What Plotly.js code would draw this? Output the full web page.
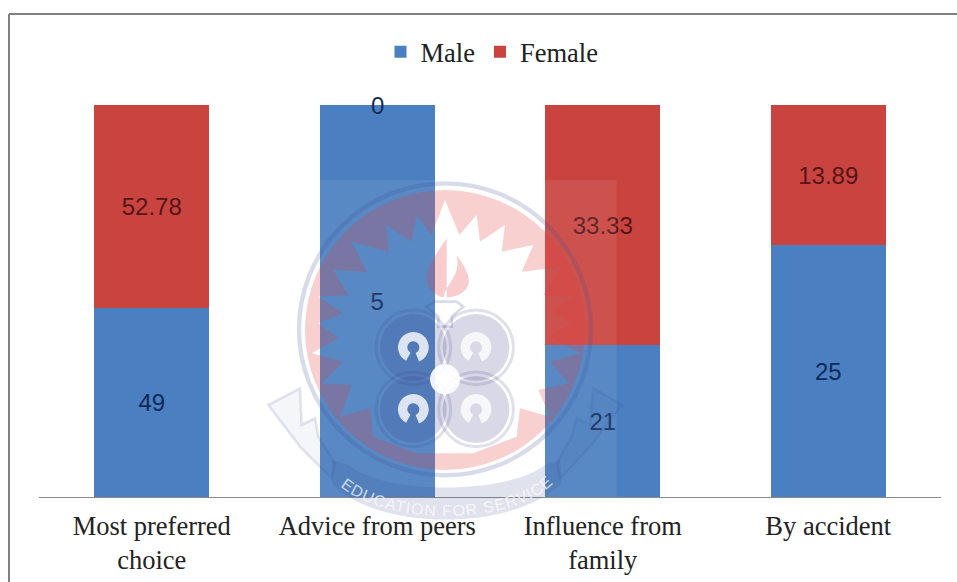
<!DOCTYPE html>
<html><head><meta charset="utf-8">
<script src="https://cdn.plot.ly/plotly-3.0.1.min.js"></script>
<style>html,body{margin:0;padding:0;background:#fff}</style></head>
<body><div id="chart" style="width:957px;height:582px"></div>
<script>
const categories = ["Most preferred<br>choice", "Advice from peers", "Influence from<br>family", "By accident"];
const maleValues = [49, 5, 21, 25];
const femaleValues = [52.78, 0, 33.33, 13.89];
const maleName = "Male";
const femaleName = "Female";

const W = 957, H = 582, L = 39, R = 941, T = 105, B = 497;

const starPts = "555,90 598,195 650,135 660,215 735,165 725,245 820,225 785,305 905,290 850,375 940,380 880,425 935,460 870,500 960,550 870,575 925,640 835,660 870,740 780,715 770,800 640,850 555,850 470,850 340,800 330,715 240,740 275,645 185,640 250,575 155,550 235,505 175,460 250,430 175,380 265,375 220,300 320,305 275,215 385,245 380,165 455,215 470,135 515,195";
const lobes = [[460,532],[648,532],[460,718],[648,718]];
const lobeSvg = lobes.map(p => `<circle cx="${p[0]}" cy="${p[1]}" r="112" fill="none" stroke="#3c3c88" stroke-opacity=".16" stroke-width="9"/><circle cx="${p[0]}" cy="${p[1]}" r="100" fill="#3c3c88" fill-opacity=".2"/><circle cx="${p[0]}" cy="${p[1]}" r="32" fill="none" stroke="#fff" stroke-opacity=".8" stroke-width="28" stroke-dasharray="172 29" transform="rotate(118 ${p[0]} ${p[1]})"/>`).join("");
const watermark = `<svg xmlns="http://www.w3.org/2000/svg" width="1110" height="1080" viewBox="0 0 1110 1080">
<rect x="180" y="30" width="890" height="950" fill="#fff" fill-opacity=".08"/>
<path fill-rule="evenodd" fill="#e83c3c" fill-opacity=".24" d="M135,480a420,420 0 1,0 840,0a420,420 0 1,0 -840,0Z M${starPts.replace(/ /g," L")}Z"/>
<circle cx="555" cy="478" r="438" fill="none" stroke="#3c4c98" stroke-opacity=".2" stroke-width="13"/>
<path d="M560,205 C530,250 500,290 500,325 C502,360 530,380 552,382 C552,345 605,320 590,255 C615,290 632,320 625,345 C612,375 580,382 560,382 Z" fill="#e83c3c" fill-opacity=".26"/>
<path d="M500,410 L525,395 L590,395 L610,410 L575,440 L575,470 L535,470 L535,440 Z" fill="none" stroke="#3c4c98" stroke-opacity=".2" stroke-width="8"/>
${lobeSvg}
<circle cx="555" cy="628" r="45" fill="#fff" fill-opacity=".9"/>
<path d="M25,705 L120,655 L125,765 L165,745 L175,800 L225,880 L215,925 L120,830 Z" fill="#3c4c98" fill-opacity=".05" stroke="#3c4c98" stroke-opacity=".14" stroke-width="8"/>
<path d="M1085,705 L1000,655 L990,765 L950,745 L935,800 L890,880 L900,925 L990,830 Z" fill="#3c4c98" fill-opacity=".05" stroke="#3c4c98" stroke-opacity=".14" stroke-width="8"/>
<path d="M215,870 L265,885 C370,975 740,975 855,885 L900,870 L905,940 C760,1085 350,1085 215,940 Z" fill="#3c4c98" fill-opacity=".16"/>
<path id="arc" d="M235,945 C380,1070 740,1070 875,945" fill="none"/>
<text font-family="Liberation Sans, Arial, sans-serif" font-size="48" fill="#fff" fill-opacity=".7" textLength="680"><textPath href="#arc" startOffset="1%">EDUCATION FOR SERVICE</textPath></text>
</svg>`;

const labelFamily = "Liberation Sans, Arial, sans-serif";
const serifFamily = "Liberation Serif, Times New Roman, serif";
const common = {
  type: "bar",
  x: categories,
  textposition: "inside",
  insidetextanchor: "middle",
  constraintext: "none",
  textangle: 0,
  hoverinfo: "x+y+name"
};

const data = [
  Object.assign({}, common, {
    name: maleName, y: maleValues, text: maleValues.map(String),
    marker: {color: "#4a7fc1"},
    textfont: {family: labelFamily, size: 24, color: "#102a58"}
  }),
  Object.assign({}, common, {
    name: femaleName, y: femaleValues, text: femaleValues.map(v => v === 0 ? "" : String(v)),
    marker: {color: "#c9443f"},
    textfont: {family: labelFamily, size: 24, color: "#561419"}
  })
];

const annotations = femaleValues.map((v, i) => v === 0 ? {
  x: categories[i], y: 100, xref: "x", yref: "y", text: String(v), showarrow: false,
  font: {family: labelFamily, size: 24, color: "#102a58"}
} : null).filter(Boolean);

const layout = {
  width: W, height: H,
  margin: {l: L, r: W - R, t: T, b: H - B, pad: 0},
  paper_bgcolor: "#fff", plot_bgcolor: "#fff",
  barmode: "stack", barnorm: "percent", bargap: 0.49,
  showlegend: true,
  legend: {
    orientation: "h", x: (492 - L) / (R - L), xanchor: "center", y: 1.135, yanchor: "middle",
    font: {family: serifFamily, size: 26.5, color: "#222"},
    traceorder: "normal", itemwidth: 30, bgcolor: "rgba(0,0,0,0)"
  },
  xaxis: {
    type: "category", range: [-0.5, 3.5], showline: true, linecolor: "#8a8a8a", linewidth: 1,
    ticks: "", showgrid: false, zeroline: false, automargin: false, tickangle: 0,
    ticklabelstandoff: 5,
    tickfont: {family: serifFamily, size: 26.5, color: "#222"}
  },
  yaxis: {range: [0, 100], showticklabels: false, showgrid: false, zeroline: false, showline: false, ticks: "", automargin: false},
  annotations: annotations,
  shapes: [
    {type: "line", xref: "paper", yref: "paper", x0: (9 - L) / (R - L), x1: (9 - L) / (R - L), y0: (B - 14) / (B - T), y1: (B - 582) / (B - T), line: {color: "#808080", width: 2}},
    {type: "line", xref: "paper", yref: "paper", x0: (9 - L) / (R - L), x1: (957 - L) / (R - L), y0: (B - 14) / (B - T), y1: (B - 14) / (B - T), line: {color: "#808080", width: 2}}
  ],
  images: [{
    source: "data:image/svg+xml;charset=utf-8," + encodeURIComponent(watermark),
    xref: "paper", yref: "paper",
    x: (260 - L) / (R - L), y: (B - 170) / (B - T),
    sizex: 370 / (R - L), sizey: 360 / (B - T),
    sizing: "stretch", xanchor: "left", yanchor: "top", layer: "above", opacity: 1
  }]
};

Plotly.newPlot("chart", data, layout, {displayModeBar: false, responsive: false});
</script></body></html>
